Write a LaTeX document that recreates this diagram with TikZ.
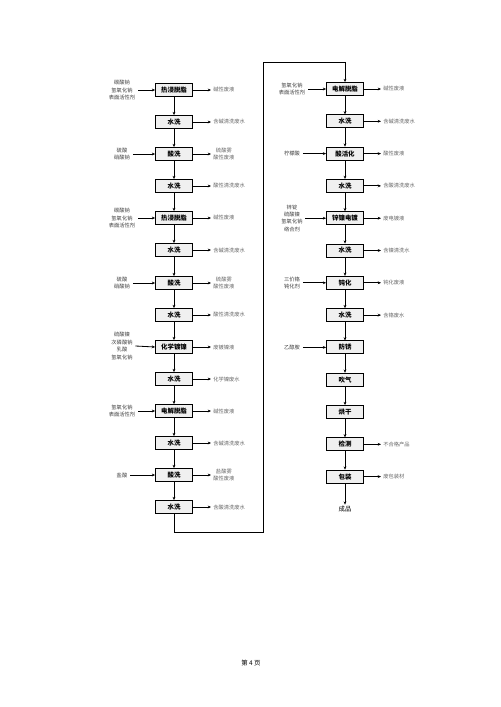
\documentclass[tikz,border=0pt]{standalone}
\usepackage{fontspec}
\newfontfamily\cjk{Noto Sans CJK SC}
\usetikzlibrary{arrows.meta}
\begin{document}
\begin{tikzpicture}[x=0.03cm,y=-0.03cm,
  box/.style={draw, fill=gray!12, line width=0.7pt, minimum width=1.11cm, minimum height=0.39cm, inner sep=0pt, font=\cjk\bfseries\fontsize{5.5}{6.5}\selectfont},
  inlab/.style={font=\cjk\fontsize{4.5}{6.3}\selectfont, align=center, text=black!75, inner sep=0pt, outer sep=2.5pt},
  outlab/.style={font=\cjk\fontsize{4.5}{6.3}\selectfont, align=center, text=black!60, inner sep=0pt, outer sep=2pt, anchor=west},
  arr/.style={-{Stealth[length=2.8pt,width=2.4pt]}, line width=0.7pt},
  conn/.style={line width=0.8pt, black}]
\useasboundingbox (0,0) rectangle (500,707);
% ---------- left column ----------
\node[box] (l1) at (174,90) {热浸脱脂};
\node[box] (l2) at (174,122) {水洗};
\node[box] (l3) at (174,154) {酸洗};
\node[box] (l4) at (174,186) {水洗};
\node[box] (l5) at (174,218) {热浸脱脂};
\node[box] (l6) at (174,250) {水洗};
\node[box] (l7) at (174,283) {酸洗};
\node[box] (l8) at (174,315) {水洗};
\node[box] (l9) at (174,347) {化学镀镍};
\node[box] (l10) at (174,379) {水洗};
\node[box] (l11) at (174,411) {电解脱脂};
\node[box] (l12) at (174,443) {水洗};
\node[box] (l13) at (174,475) {酸洗};
\node[box] (l14) at (174,507) {水洗};
\foreach \a/\b in {l1/l2,l2/l3,l3/l4,l4/l5,l5/l6,l6/l7,l7/l8,l8/l9,l9/l10,l10/l11,l11/l12,l12/l13,l13/l14}
  \draw[arr] (\a.south) -- (\b.north);
% inputs left
\node[inlab] (li1) at (122,90) {碳酸钠\\氢氧化钠\\表面活性剂};
\node[inlab] (li3) at (122,154) {硫酸\\硝酸钠};
\node[inlab] (li5) at (122,218) {碳酸钠\\氢氧化钠\\表面活性剂};
\node[inlab] (li7) at (122,283) {硫酸\\硝酸钠};
\node[inlab] (li9) at (122,346) {硫酸镍\\次磷酸钠\\乳酸\\氢氧化钠};
\node[inlab] (li11) at (122,411) {氢氧化钠\\表面活性剂};
\node[inlab] (li13) at (122,475) {盐酸};
\foreach \a/\b in {li1/l1,li3/l3,li5/l5,li7/l7,li9/l9,li11/l11,li13/l13}
  \draw[arr] (\a.east) -- (\b.west);
% outputs left
\node[outlab] (lo1) at (211,90) {碱性废液};
\node[outlab] (lo2) at (211,122) {含碱清洗废水};
\node[outlab] (lo3) at (211,154) {硫酸雾\\酸性废液};
\node[outlab] (lo4) at (211,186) {酸性清洗废水};
\node[outlab] (lo5) at (211,218) {碱性废液};
\node[outlab] (lo6) at (211,250) {含碱清洗废水};
\node[outlab] (lo7) at (211,283) {硫酸雾\\酸性废液};
\node[outlab] (lo8) at (211,315) {酸性清洗废水};
\node[outlab] (lo9) at (211,347) {废镀镍液};
\node[outlab] (lo10) at (211,379) {化学镍废水};
\node[outlab] (lo11) at (211,411) {碱性废液};
\node[outlab] (lo12) at (211,443) {含碱清洗废水};
\node[outlab] (lo13) at (211,475) {盐酸雾\\酸性废液};
\node[outlab] (lo14) at (211,507) {含酸清洗废水};
\foreach \i in {1,...,14}
  \draw[arr] (l\i.east) -- (lo\i.west);
% ---------- right column ----------
\node[box] (r1) at (345,89) {电解脱脂};
\node[box] (r2) at (345,121.3) {水洗};
\node[box] (r3) at (345,153.6) {酸活化};
\node[box] (r4) at (345,185.9) {水洗};
\node[box] (r5) at (345,218.2) {锌镍电镀};
\node[box] (r6) at (345,250.5) {水洗};
\node[box] (r7) at (345,282.8) {钝化};
\node[box] (r8) at (345,315.1) {水洗};
\node[box] (r9) at (345,347.4) {防锈};
\node[box] (r10) at (345,379.7) {吹气};
\node[box] (r11) at (345,412) {烘干};
\node[box] (r12) at (345,444.3) {检测};
\node[box] (r13) at (345,476.6) {包装};
\node[font=\cjk\fontsize{5.5}{6.5}\selectfont, inner sep=1pt] (r14) at (345,509) {成品};
\foreach \a/\b in {r1/r2,r2/r3,r3/r4,r4/r5,r5/r6,r6/r7,r7/r8,r8/r9,r9/r10,r10/r11,r11/r12,r12/r13,r13/r14}
  \draw[arr] (\a.south) -- (\b.north);
% ---------- connector ----------
\coordinate (c0) at (174,532);
\coordinate (c1) at (263,532);
\coordinate (c2) at (263,62);
\coordinate (c3) at (345,62);
\draw[conn] (l14.south) -- (c0) -- (c1) -- (c2) -- (c3);
\draw[arr] (c3) -- (r1.north);
% inputs right
\node[inlab] (ri1) at (292,89) {氢氧化钠\\表面活性剂};
\node[inlab] (ri3) at (292,153.6) {柠檬酸};
\node[inlab] (ri5) at (292,218.2) {锌锭\\硫酸镍\\氢氧化钠\\络合剂};
\node[inlab] (ri7) at (292,282.8) {三价铬\\钝化剂};
\node[inlab] (ri9) at (292,347.4) {乙醇胺};
\foreach \a/\b in {ri1/r1,ri3/r3,ri5/r5,ri7/r7,ri9/r9}
  \draw[arr] (\a.east) -- (\b.west);
% outputs right
\node[outlab] (ro1) at (381,89) {碱性废液};
\node[outlab] (ro2) at (381,121.3) {含碱清洗废水};
\node[outlab] (ro3) at (381,153.6) {酸性废液};
\node[outlab] (ro4) at (381,185.9) {含酸清洗废水};
\node[outlab] (ro5) at (381,218.2) {废电镀液};
\node[outlab] (ro6) at (381,250.5) {含镍清洗水};
\node[outlab] (ro7) at (381,282.8) {钝化废液};
\node[outlab] (ro8) at (381,315.1) {含铬废水};
\node[outlab] (ro12) at (381,444.3) {不合格产品};
\node[outlab] (ro13) at (381,476.6) {废包装材};
\foreach \i in {1,...,8,12,13}
  \draw[arr] (r\i.east) -- (ro\i.west);
% footer
\node[font=\cjk\fontsize{5.5}{6.5}\selectfont] (pg) at (251,663) {第 4 页};
\end{tikzpicture}
\end{document}
